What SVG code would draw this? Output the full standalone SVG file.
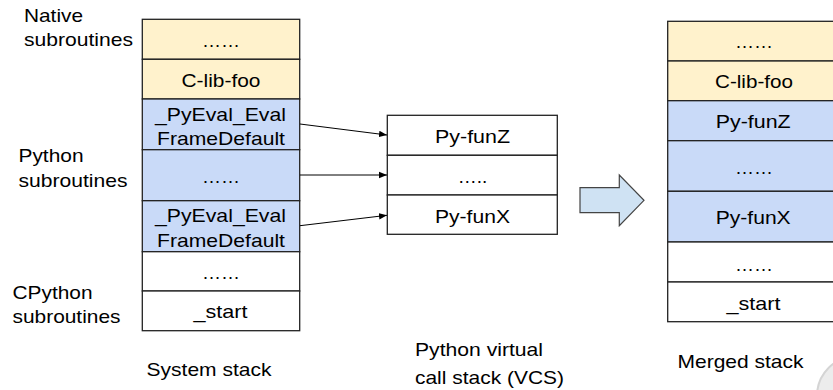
<svg xmlns="http://www.w3.org/2000/svg" width="833" height="390" viewBox="0 0 833 390">
<style>
text{font-family:"Liberation Sans",Arial,sans-serif;font-size:19px;fill:#000}
.c{text-anchor:middle}
.y{fill:#fff2cc;stroke:#222;stroke-width:1.3}
.b{fill:#c9daf8;stroke:#222;stroke-width:1.3}
.w{fill:#fff;stroke:#222;stroke-width:1.3}
.ln{stroke:#000;stroke-width:1;fill:none}
</style>
<defs>
<marker id="ah" viewBox="0 0 10 10" refX="10" refY="5" markerWidth="8" markerHeight="8" markerUnits="userSpaceOnUse" orient="auto">
<path d="M0,1 L10,5 L0,9 z" fill="#000"/>
</marker>
</defs>
<rect width="833" height="390" fill="#fff"/>
<circle cx="857" cy="396" r="40" fill="#ececec" stroke="#d4d4d4" stroke-width="2"/>

<g id="labels">
<text x="24" y="21.5" textLength="59" lengthAdjust="spacingAndGlyphs">Native</text>
<text x="24" y="46" textLength="109" lengthAdjust="spacingAndGlyphs">subroutines</text>
<text x="18.5" y="162" textLength="65" lengthAdjust="spacingAndGlyphs">Python</text>
<text x="18.5" y="187" textLength="109" lengthAdjust="spacingAndGlyphs">subroutines</text>
<text x="12.5" y="298.5" textLength="80" lengthAdjust="spacingAndGlyphs">CPython</text>
<text x="12.5" y="323" textLength="108" lengthAdjust="spacingAndGlyphs">subroutines</text>
<text x="146.5" y="376" textLength="125" lengthAdjust="spacingAndGlyphs">System stack</text>
<text x="415" y="356" textLength="128" lengthAdjust="spacingAndGlyphs">Python virtual</text>
<text x="415" y="383.5" textLength="149" lengthAdjust="spacingAndGlyphs">call stack (VCS)</text>
<text x="677.5" y="367.5" textLength="126" lengthAdjust="spacingAndGlyphs">Merged stack</text>
</g>

<g id="system-stack">
<rect class="y" x="142.3" y="19.3" width="157.4" height="40"/>
<text class="c" x="221" y="46.5">……</text>
<rect class="y" x="142.3" y="59.3" width="157.4" height="39.7"/>
<text class="c" x="221" y="87.3" textLength="79" lengthAdjust="spacingAndGlyphs">C-lib-foo</text>
<rect class="b" x="142.3" y="99" width="157.4" height="50.7"/>
<text class="c" x="220.5" y="120.5" textLength="131" lengthAdjust="spacingAndGlyphs">_PyEval_Eval</text>
<text class="c" x="221" y="145" textLength="128" lengthAdjust="spacingAndGlyphs">FrameDefault</text>
<rect class="b" x="142.3" y="149.7" width="157.4" height="51"/>
<text class="c" x="221" y="182.7">……</text>
<rect class="b" x="142.3" y="200.7" width="157.4" height="51"/>
<text class="c" x="220.5" y="221.7" textLength="131" lengthAdjust="spacingAndGlyphs">_PyEval_Eval</text>
<text class="c" x="221" y="246.7" textLength="128" lengthAdjust="spacingAndGlyphs">FrameDefault</text>
<rect class="w" x="142.3" y="251.7" width="157.4" height="39.3"/>
<text class="c" x="221" y="279.3">……</text>
<rect class="w" x="142.3" y="291" width="157.4" height="39.7"/>
<text class="c" x="220.5" y="318.3" textLength="54" lengthAdjust="spacingAndGlyphs">_start</text>
</g>

<g id="vcs">
<rect class="w" x="387.3" y="115.3" width="170" height="40"/>
<text class="c" x="472.5" y="142.7" textLength="75" lengthAdjust="spacingAndGlyphs">Py-funZ</text>
<rect class="w" x="387.3" y="155.3" width="170" height="39.7"/>
<text class="c" x="472.5" y="182.7">…..</text>
<rect class="w" x="387.3" y="195" width="170" height="39.3"/>
<text class="c" x="472.5" y="223.3" textLength="75" lengthAdjust="spacingAndGlyphs">Py-funX</text>
</g>

<g id="merge-arrow">
<path d="M580,187.7 L619.3,187.7 L619.3,175 L644,200.3 L619.3,225.7 L619.3,212.7 L580,212.7 Z" fill="#cfe2f3" stroke="#444" stroke-width="1.2" stroke-linejoin="miter"/>
</g>

<g id="merged-stack">
<rect class="y" x="667.7" y="21.3" width="172" height="39.7"/>
<text class="c" x="754" y="47.7">……</text>
<rect class="y" x="667.7" y="61" width="172" height="39.7"/>
<text class="c" x="754" y="88.3" textLength="78" lengthAdjust="spacingAndGlyphs">C-lib-foo</text>
<rect class="b" x="667.7" y="100.7" width="172" height="40"/>
<text class="c" x="753.2" y="128.3" textLength="75" lengthAdjust="spacingAndGlyphs">Py-funZ</text>
<rect class="b" x="667.7" y="140.7" width="172" height="50.6"/>
<text class="c" x="754" y="174">……</text>
<rect class="b" x="667.7" y="191.3" width="172" height="50.7"/>
<text class="c" x="753.2" y="224" textLength="75" lengthAdjust="spacingAndGlyphs">Py-funX</text>
<rect class="w" x="667.7" y="242" width="172" height="40"/>
<text class="c" x="754" y="270.7">……</text>
<rect class="w" x="667.7" y="282" width="172" height="39.7"/>
<text class="c" x="753.5" y="310" textLength="54" lengthAdjust="spacingAndGlyphs">_start</text>
</g>

<g id="connectors">
<line class="ln" x1="300" y1="124" x2="387" y2="135" marker-end="url(#ah)"/>
<line class="ln" x1="300" y1="175" x2="387" y2="175" marker-end="url(#ah)"/>
<line class="ln" x1="300" y1="225.7" x2="387" y2="215.3" marker-end="url(#ah)"/>
</g>
</svg>
